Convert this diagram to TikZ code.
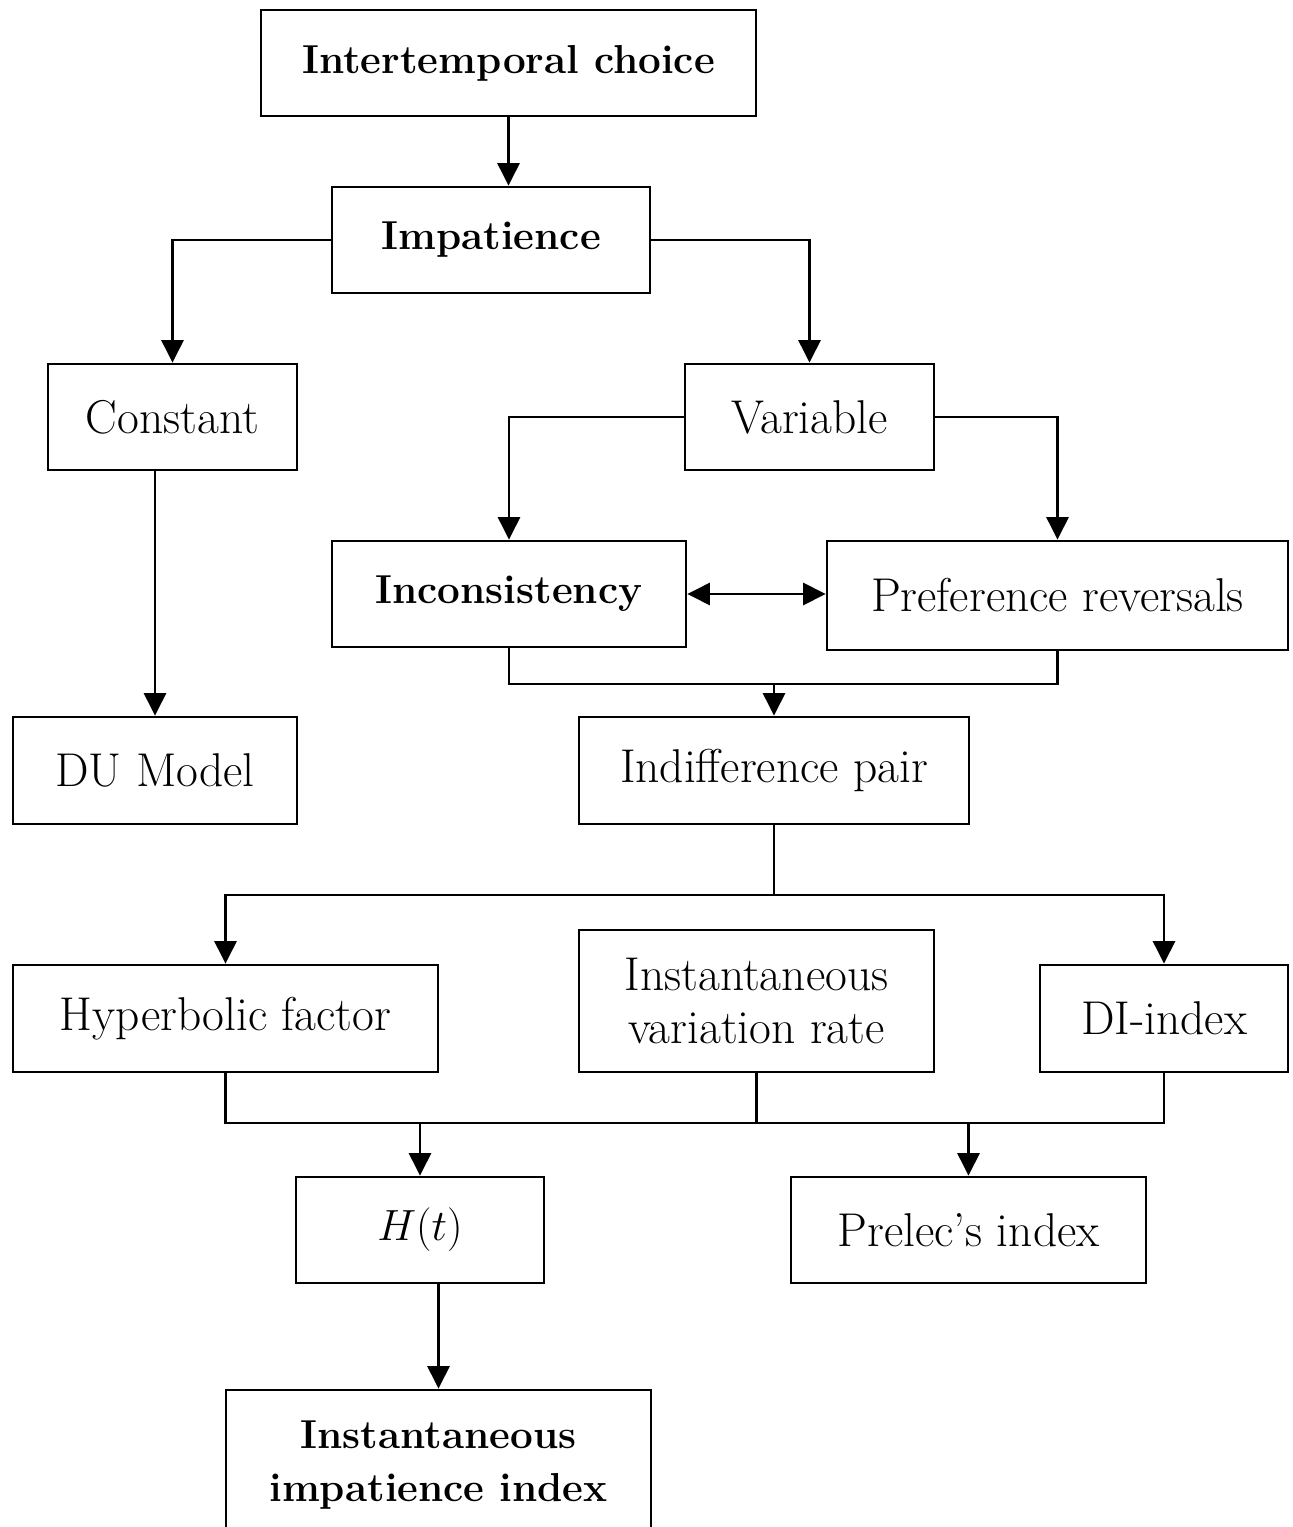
\documentclass[tikz,border=0pt]{standalone}
\usepackage{tikz}
\usetikzlibrary{arrows.meta}

\tikzset{
  box/.style={draw,line width=1.6pt,align=center,inner sep=0pt,
    font=\fontsize{27}{30}\selectfont},
  bbox/.style={box,font=\fontsize{23}{30}\selectfont\bfseries},
  link/.style={line width=1.6pt},
  arr/.style={link,-{Triangle[length=0.45cm,width=0.44cm]}}
}

\begin{document}
\begin{tikzpicture}[x=0.02cm,y=-0.02cm]
\useasboundingbox (0,0) rectangle (1293,1527);
\node[bbox,minimum width=9.9cm,minimum height=2.12cm] (tit) at (508.5,63) {Intertemporal choice};
\node[bbox,minimum width=6.36cm,minimum height=2.12cm] (imp) at (491,240) {Impatience};
\node[box,minimum width=4.98cm,minimum height=2.12cm] (con) at (172.5,417) {Constant};
\node[box,minimum width=4.98cm,minimum height=2.12cm] (var) at (809.5,417) {Variable};
\node[bbox,minimum width=7.08cm,minimum height=2.12cm] (inc) at (509,594) {Inconsistency};
\node[box,minimum width=9.22cm,minimum height=2.18cm] (rev) at (1057.5,595.5) {Preference reversals};
\node[box,minimum width=5.68cm,minimum height=2.14cm] (du) at (155,770.5) {DU Model};
\node[box,minimum width=7.8cm,minimum height=2.14cm] (ind) at (774,770.5) {Indifference pair};
\node[box,minimum width=8.5cm,minimum height=2.14cm] (hyp) at (225.5,1018.5) {Hyperbolic factor};
\node[box,minimum width=7.1cm,minimum height=2.84cm] (ivr) at (756.5,1001) {Instantaneous\\variation rate};
\node[box,minimum width=4.96cm,minimum height=2.14cm] (di) at (1164,1018.5) {DI-index};
\node[box,minimum width=4.96cm,minimum height=2.12cm] (ht) at (420,1230) {$H(t)$};
\node[box,minimum width=7.1cm,minimum height=2.12cm] (pre) at (968.5,1230) {Prelec's index};
\node[bbox,minimum width=8.5cm,minimum height=3cm] (iii) at (438.5,1465) {Instantaneous\\impatience index};

\coordinate (j1) at (774,684);
\coordinate (j2) at (774,895);
\coordinate (j3) at (756.5,1123);

\draw[arr] (tit.south) -- (tit.south |- imp.north);
\draw[arr] (imp.west) -| (con.north);
\draw[arr] (imp.east) -| (var.north);
\draw[arr] (du.north |- con.south) -- (du.north);
\draw[arr] (var.west) -| (inc.north);
\draw[arr] (var.east) -| (rev.north);
\draw[link,{Triangle[length=0.45cm,width=0.44cm]}-{Triangle[length=0.45cm,width=0.44cm]}] (inc.east) -- (inc.east -| rev.west);
\draw[link] (inc.south) |- (j1) -| (rev.south);
\draw[arr] (j1) -- (ind.north);
\draw[link] (ind.south) -- (j2);
\draw[arr] (j2) -| (hyp.north);
\draw[arr] (j2) -| (di.north);
\draw[link] (hyp.south) |- (j3) -| (di.south);
\draw[link] (ivr.south) -- (j3);
\draw[arr] (ht.north |- j3) -- (ht.north);
\draw[arr] (pre.north |- j3) -- (pre.north);
\draw[arr] (iii.north |- ht.south) -- (iii.north);
\end{tikzpicture}
\end{document}
